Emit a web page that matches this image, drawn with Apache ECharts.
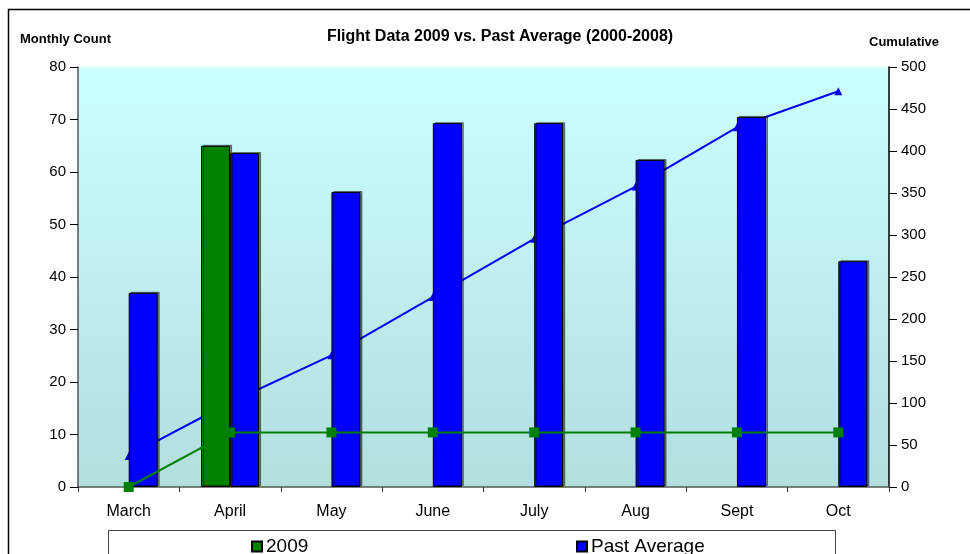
<!DOCTYPE html>
<html>
<head>
<meta charset="utf-8">
<script src="https://cdn.jsdelivr.net/npm/echarts@6/dist/echarts.min.js"></script>
<style>html,body{margin:0;padding:0;background:#fff}#c{width:970px;height:554px}</style>
</head>
<body>
<div id="c"></div>
<script>
const months = ['March','April','May','June','July','Aug','Sept','Oct'];
const bars2009 = [null, 65, null, null, null, null, null, null];
const barsPastAvg = [37, 63.6, 56.2, 69.3, 69.3, 62.3, 70.5, 43];
const cumulative2009 = [0, 65, 65, 65, 65, 65, 65, 65];
const cumulativePastAvg = [37, 100.6, 156.8, 226.1, 295.4, 357.7, 428.2, 471.2];
const leftTicks = [0, 80, 10];
const rightTicks = [0, 500, 50];

const FONT = 'Liberation Sans, Arial, sans-serif';
const chart = echarts.init(document.getElementById('c'));
chart.setOption({
  animation: false,
  textStyle: { fontFamily: FONT },
  title: {
    text: 'Flight Data 2009 vs. Past Average (2000-2008)',
    left: 495, top: 24, textAlign: 'center',
    textStyle: { fontSize: 16, fontWeight: 'bold', color: '#000', fontFamily: FONT }
  },
  grid: { left: 78, right: 81, top: 67, bottom: 67,
    show: true, borderWidth: 0,
    backgroundColor: new echarts.graphic.LinearGradient(0, 0, 0, 1, [
      { offset: 0, color: '#ccffff' }, { offset: 1, color: '#b2dede' }]) },
  legend: [
    { data: ['2009'], left: 246, top: 532, icon: 'rect', itemWidth: 10, itemHeight: 10, itemGap: 5,
      textStyle: { fontSize: 19, color: '#000', fontFamily: FONT, padding: [0, 0, 0, -1] } },
    { data: ['Past Average'], left: 571, top: 532, icon: 'rect', itemWidth: 10, itemHeight: 10,
      textStyle: { fontSize: 19, color: '#000', fontFamily: FONT, padding: [0, 0, 0, -1] } }
  ],
  xAxis: {
    type: 'category', data: months,
    axisLine: { lineStyle: { color: '#555', width: 1.5 } },
    axisTick: { show: true, length: 5, lineStyle: { color: '#333' } },
    axisLabel: { color: '#000', fontSize: 16, margin: 17, fontFamily: FONT }
  },
  yAxis: [
    { type: 'value', min: leftTicks[0], max: leftTicks[1], interval: leftTicks[2],
      splitLine: { show: false },
      axisLine: { show: true, lineStyle: { color: '#555', width: 1.5 } },
      axisTick: { show: true, length: 8, lineStyle: { color: '#000' } },
      axisLabel: { color: '#000', fontSize: 15, margin: 12, fontFamily: FONT } },
    { type: 'value', min: rightTicks[0], max: rightTicks[1], interval: rightTicks[2],
      splitLine: { show: false },
      axisLine: { show: true, lineStyle: { color: '#000', width: 1.5 } },
      axisTick: { show: true, length: 8, lineStyle: { color: '#000' } },
      axisLabel: { color: '#000', fontSize: 15, margin: 12, fontFamily: FONT } }
  ],
  series: [
    { name: 'Past Average Cumulative', type: 'line', yAxisIndex: 1, z: 1,
      data: cumulativePastAvg, symbol: 'triangle', symbolSize: 8,
      lineStyle: { color: '#0000ff', width: 2 }, itemStyle: { color: '#0000ff' } },
    { name: '2009', type: 'bar', data: bars2009, barWidth: 29, barGap: '0%', z: 2,
      itemStyle: { color: '#008000', borderColor: '#000', borderWidth: 1,
        shadowColor: 'rgba(0,0,0,0.45)', shadowOffsetX: 2, shadowOffsetY: -1 } },
    { name: 'Past Average', type: 'bar', data: barsPastAvg, barWidth: 29, barGap: '0%', z: 2,
      itemStyle: { color: '#0000ff', borderColor: '#000', borderWidth: 1,
        shadowColor: 'rgba(0,0,0,0.45)', shadowOffsetX: 2, shadowOffsetY: -1 } },
    { name: '2009 Cumulative', type: 'line', yAxisIndex: 1, z: 3,
      data: cumulative2009, symbol: 'rect', symbolSize: 10,
      lineStyle: { color: '#008000', width: 2 }, itemStyle: { color: '#008000' } }
  ],
  graphic: [
    { type: 'rect', shape: { x: 8.5, y: 9.5, width: 1000, height: 600 },
      style: { fill: 'none', stroke: '#000', lineWidth: 1.5 }, z: -10 },
    { type: 'rect', shape: { x: 108.5, y: 530.5, width: 727, height: 40 },
      style: { fill: '#fff', stroke: '#444', lineWidth: 1 }, z: -5 },
    { type: 'text', left: 20, top: 33,
      style: { text: 'Monthly Count', font: 'bold 13px ' + FONT, fill: '#000' } },
    { type: 'text', left: 869, top: 36,
      style: { text: 'Cumulative', font: 'bold 13px ' + FONT, fill: '#000' } }
  ]
});
</script>
</body>
</html>
